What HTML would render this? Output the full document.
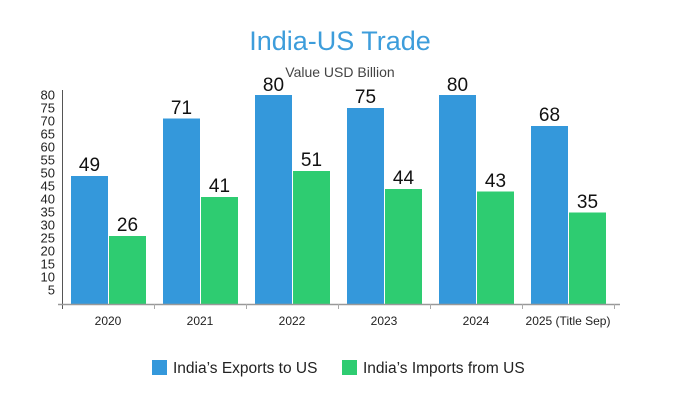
<!DOCTYPE html>
<html><head><style>
body{margin:0;background:#fff;}
svg text{font-family:"Liberation Sans",sans-serif;}
</style></head><body>
<svg width="680" height="400" xmlns="http://www.w3.org/2000/svg">
<rect width="680" height="400" fill="#fff"/>
<text x="340" y="50" text-anchor="middle" font-size="27" fill="#3d9ddb">India-US Trade</text>
<text x="340" y="77" text-anchor="middle" font-size="14" fill="#444">Value USD Billion</text>
<g font-size="13" fill="#222" text-anchor="end">
<text x="55" y="99.5">80</text><text x="55" y="112.5">75</text><text x="55" y="125.5">70</text><text x="55" y="138.5">65</text><text x="55" y="151.5">60</text><text x="55" y="164.5">55</text><text x="55" y="177.5">50</text><text x="55" y="190.5">45</text><text x="55" y="203.5">40</text><text x="55" y="216.5">35</text><text x="55" y="229.5">30</text><text x="55" y="242.5">25</text><text x="55" y="255.5">20</text><text x="55" y="268.5">15</text><text x="55" y="281.5">10</text><text x="55" y="294.5">5</text>
</g>
<g id="bars">
<rect x="71" y="176" width="37" height="128" fill="#3498db"/><rect x="109" y="236" width="37" height="68" fill="#2ecc71"/>
<rect x="163" y="118.5" width="37" height="185.5" fill="#3498db"/><rect x="201" y="197" width="37" height="107" fill="#2ecc71"/>
<rect x="255" y="95" width="37" height="209" fill="#3498db"/><rect x="293" y="171" width="37" height="133" fill="#2ecc71"/>
<rect x="347" y="108" width="37" height="196" fill="#3498db"/><rect x="385" y="189" width="37" height="115" fill="#2ecc71"/>
<rect x="439" y="95" width="37" height="209" fill="#3498db"/><rect x="477" y="191.5" width="37" height="112.5" fill="#2ecc71"/>
<rect x="531" y="126" width="37" height="178" fill="#3498db"/><rect x="569" y="212.5" width="37" height="91.5" fill="#2ecc71"/>
</g>
<g font-size="19" fill="#111" text-anchor="middle">
<text x="89.5" y="171">49</text><text x="127.5" y="231">26</text>
<text x="181.5" y="114">71</text><text x="219.5" y="192">41</text>
<text x="273.5" y="91">80</text><text x="311.5" y="166">51</text>
<text x="365.5" y="103">75</text><text x="403.5" y="184">44</text>
<text x="457.5" y="91">80</text><text x="495.5" y="187">43</text>
<text x="549.5" y="121">68</text><text x="587.5" y="208">35</text>
</g>
<g stroke="#555" stroke-width="1">
<line x1="62.5" y1="90" x2="62.5" y2="309"/>
<line x1="58" y1="304.5" x2="620" y2="304.5" stroke="#999" stroke-width="1.5"/>
<line x1="154.5" y1="304" x2="154.5" y2="309" stroke="#aaa"/>
<line x1="246.5" y1="304" x2="246.5" y2="309" stroke="#aaa"/>
<line x1="338.5" y1="304" x2="338.5" y2="309" stroke="#aaa"/>
<line x1="430.5" y1="304" x2="430.5" y2="309" stroke="#aaa"/>
<line x1="522.5" y1="304" x2="522.5" y2="309" stroke="#aaa"/>
<line x1="614.5" y1="304" x2="614.5" y2="309" stroke="#aaa"/>
</g>
<g font-size="12" fill="#222" text-anchor="middle">
<text x="108" y="325">2020</text><text x="200" y="325">2021</text><text x="292" y="325">2022</text><text x="384" y="325">2023</text><text x="476" y="325">2024</text><text x="568" y="325">2025 (Title Sep)</text>
</g>
<rect x="152" y="360" width="15" height="15" fill="#3498db"/>
<text x="173" y="373" font-size="15.5" fill="#222">India’s Exports to US</text>
<rect x="342" y="360" width="15" height="15" fill="#2ecc71"/>
<text x="363" y="373" font-size="15.5" fill="#222">India’s Imports from US</text>
</svg>
</body></html>
